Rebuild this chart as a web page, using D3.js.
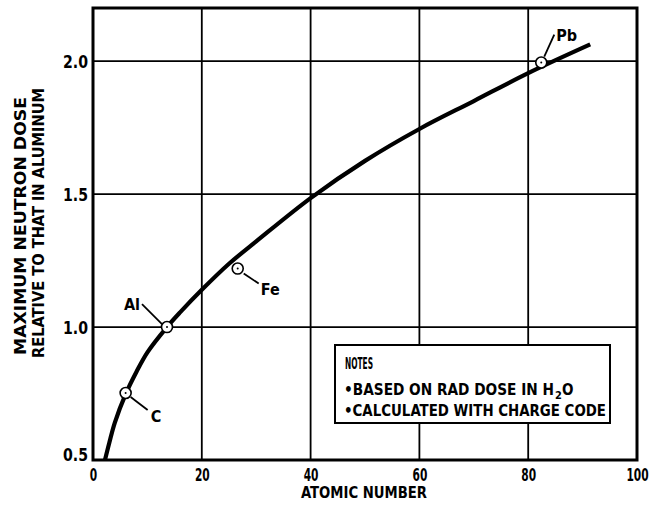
<!DOCTYPE html>
<html>
<head>
<meta charset="utf-8">
<script src="https://cdn.jsdelivr.net/npm/d3@7"></script>
<style>
  html, body { margin: 0; padding: 0; background: #fff; }
  svg { display: block; }
  text { font-family: "Liberation Sans Narrow", "DejaVu Sans Condensed", "Liberation Sans", sans-serif; font-weight: bold; fill: #000; }
</style>
</head>
<body>
<svg id="chart" width="653" height="506"></svg>
<script>
// ---- data ----
const curveZ    = [2.2, 3, 4, 6, 8, 10, 13.6, 16, 20, 25, 30, 40, 50, 60, 70, 80, 91.4];
const curveDose = [0.5, 0.565, 0.64, 0.748, 0.832, 0.905, 1.0, 1.055, 1.14, 1.238, 1.322, 1.485, 1.625, 1.745, 1.85, 1.955, 2.063];

const elements  = ["C", "Al", "Fe", "Pb"];
const elemZ     = [6, 13.6, 26.6, 82.4];
const elemDose  = [0.752, 1.0, 1.22, 1.995];

const xTicks = [0, 20, 40, 60, 80, 100];
const yTicks = [0.5, 1.0, 1.5, 2.0];
const xGrid  = [20, 40, 60, 80];
const yGrid  = [1.0, 1.5, 2.0];

const xTitle = "ATOMIC NUMBER";
const yTitle = ["MAXIMUM NEUTRON DOSE", "RELATIVE TO THAT IN ALUMINUM"];
const notesTitle = "NOTES";
const notesLines = ["\u2022BASED ON RAD DOSE IN H", "\u2022CALCULATED WITH CHARGE CODE"];

// ---- layout ----
const L = 93, R = 637, T = 8, B = 460;
const svg = d3.select("#chart");
const x = d3.scaleLinear().domain([0, 100]).range([L, R]);
const y = d3.scaleLinear().domain([0.5, 2.2]).range([B, T]);

// grid
svg.append("g").selectAll("line").data(xGrid).join("line")
  .attr("x1", d => x(d)).attr("x2", d => x(d)).attr("y1", T).attr("y2", B)
  .attr("stroke", "#000").attr("stroke-width", 1.8);
svg.append("g").selectAll("line").data(yGrid).join("line")
  .attr("x1", L).attr("x2", R).attr("y1", d => y(d)).attr("y2", d => y(d))
  .attr("stroke", "#000").attr("stroke-width", 1.8);

// axes (labels only)
const fmtX = d3.format("d");
const xAxis = svg.append("g").attr("transform", `translate(0,${B})`)
  .call(d3.axisBottom(x).tickValues(xTicks).tickSize(0).tickPadding(7).tickFormat(fmtX));
xAxis.select(".domain").remove();
xAxis.selectAll("text").style("font-size", "18px").attr("dy", "0.75em")
  .attr("textLength", d => fmtX(d).length * 7.4).attr("lengthAdjust", "spacingAndGlyphs");

const yAxis = svg.append("g").attr("transform", `translate(${L},0)`)
  .call(d3.axisLeft(y).tickValues(yTicks).tickSize(0).tickPadding(5).tickFormat(d3.format(".1f")));
yAxis.select(".domain").remove();
yAxis.selectAll("text").style("font-size", "18px")
  .attr("dy", d => d === 0.5 ? "0.05em" : "0.33em")
  .attr("textLength", 25).attr("lengthAdjust", "spacingAndGlyphs");

// frame
svg.append("rect").attr("x", L).attr("y", T).attr("width", R - L).attr("height", B - T)
  .attr("fill", "none").attr("stroke", "#000").attr("stroke-width", 3);

// curve
const pts = curveZ.map((z, i) => [z, curveDose[i]]);
const line = d3.line().x(d => x(d[0])).y(d => y(d[1])).curve(d3.curveCatmullRom.alpha(0.5));
svg.append("path").datum(pts).attr("d", line)
  .attr("fill", "none").attr("stroke", "#000").attr("stroke-width", 4.2)
  .attr("stroke-linecap", "butt");

// element markers with leaders and labels
const labelCfg = {
  C:  { lx1: 5,  ly1: 4,  lx2: 22, ly2: 17, tx: 25, ty: 29 },
  Al: { lx1: -5, ly1: -3, lx2: -25, ly2: -23, tx: -43, ty: -17 },
  Fe: { lx1: 6,  ly1: 5,  lx2: 21, ly2: 15, tx: 23, ty: 26 },
  Pb: { lx1: 3,  ly1: -6, lx2: 13, ly2: -28, tx: 15, ty: -22 }
};
const eg = svg.append("g");
elements.forEach((name, i) => {
  const cx = x(elemZ[i]), cy = y(elemDose[i]);
  const c = labelCfg[name];
  eg.append("line").attr("x1", cx + c.lx1).attr("y1", cy + c.ly1)
    .attr("x2", cx + c.lx2).attr("y2", cy + c.ly2)
    .attr("stroke", "#000").attr("stroke-width", 1.8);
  eg.append("circle").attr("cx", cx).attr("cy", cy).attr("r", 5.5)
    .attr("fill", "#fff").attr("stroke", "#000").attr("stroke-width", 1.6);
  eg.append("circle").attr("cx", cx).attr("cy", cy).attr("r", 1)
    .attr("fill", "#000");
  eg.append("text").attr("x", cx + c.tx).attr("y", cy + c.ty)
    .style("font-size", "16px").text(name);
});

// notes box
const nb = { x: 335, y: 345, w: 275, h: 78 };
svg.append("rect").attr("x", nb.x).attr("y", nb.y).attr("width", nb.w).attr("height", nb.h)
  .attr("fill", "#fff").attr("stroke", "#000").attr("stroke-width", 2);
svg.append("text").attr("x", 345).attr("y", 369).style("font-size", "15px")
  .attr("textLength", 28).attr("lengthAdjust", "spacingAndGlyphs").text(notesTitle);
svg.append("text").attr("x", 344).attr("y", 395).style("font-size", "15px")
  .attr("textLength", 210).attr("lengthAdjust", "spacingAndGlyphs").text(notesLines[0]);
svg.append("text").attr("x", 555).attr("y", 399).style("font-size", "11px").text("2");
svg.append("text").attr("x", 562).attr("y", 395).style("font-size", "15px").text("O");
svg.append("text").attr("x", 344).attr("y", 416).style("font-size", "15px")
  .attr("textLength", 262).attr("lengthAdjust", "spacingAndGlyphs").text(notesLines[1]);

// axis titles
svg.append("text").attr("x", 364).attr("y", 498).attr("text-anchor", "middle")
  .style("font-size", "15px").attr("textLength", 126).attr("lengthAdjust", "spacingAndGlyphs")
  .text(xTitle);
svg.append("text").attr("transform", "translate(26,226) rotate(-90)").attr("text-anchor", "middle")
  .style("font-size", "15px").attr("textLength", 258).attr("lengthAdjust", "spacingAndGlyphs")
  .text(yTitle[0]);
svg.append("text").attr("transform", "translate(44,223) rotate(-90)").attr("text-anchor", "middle")
  .style("font-size", "15px").attr("textLength", 270).attr("lengthAdjust", "spacingAndGlyphs")
  .text(yTitle[1]);
</script>
</body>
</html>
